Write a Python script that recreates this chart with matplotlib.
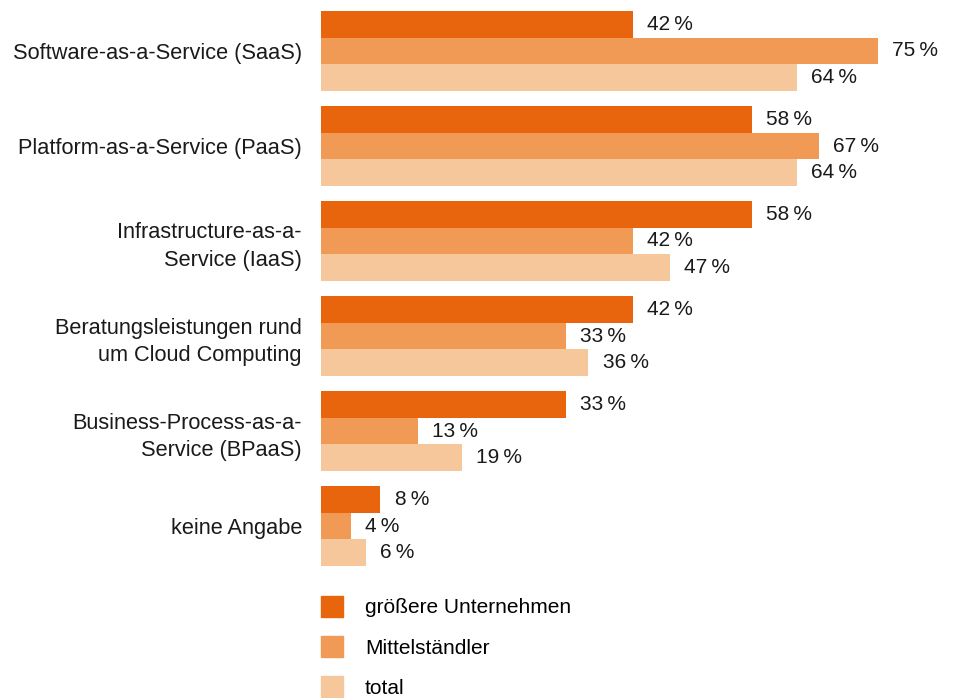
import matplotlib
matplotlib.use("Agg")
import matplotlib.pyplot as plt
from matplotlib.patches import Patch
import numpy as np

plt.rcParams['font.family'] = ['Liberation Sans', 'DejaVu Sans']

categories = [
    "Software-as-a-Service (SaaS)",
    "Platform-as-a-Service (PaaS)",
    "Infrastructure-as-a-\nService (IaaS)",
    "Beratungsleistungen rund\num Cloud Computing",
    "Business-Process-as-a-\nService (BPaaS)",
    "keine Angabe",
]
series_names = ["größere Unternehmen", "Mittelständler", "total"]
groessere = [42, 58, 58, 42, 33, 8]
mittel = [75, 67, 42, 33, 13, 4]
total = [64, 64, 47, 36, 19, 6]

colors = ["#E8650D", "#F09A56", "#F7C79C"]
fs = 15

fig = plt.figure(figsize=(9.55, 6.98), dpi=100)
ax = fig.add_axes([321 / 955, (698 - 566) / 698, 1 - 321 / 955, 555 / 698])

y = np.arange(len(categories))
h = 26.7 / 95
for k, (vals, col) in enumerate(zip([groessere, mittel, total], colors)):
    pos = y + (k - 1) * h
    ax.barh(pos, vals, height=h, color=col, label=series_names[k])
    for p, v in zip(pos, vals):
        ax.text(v + 1.9, p, f"{v}\u2009%", va="center", ha="left", fontsize=fs, color="#1a1a1a")

ax.set_xlim(0, (955 - 321) / 7.43)
ax.set_ylim(len(categories) - 1 + 40 / 95, -40 / 95)
ax.set_yticks(y)
ax.set_yticklabels(categories, fontsize=15.7, color="#1a1a1a", linespacing=1.38)
ax.tick_params(axis="y", length=0, pad=13.7)
ax.set_xticks([])
for s in ax.spines.values():
    s.set_visible(False)

handles = [Patch(color=c) for c in colors]
ax.legend(handles, series_names, loc="upper left", bbox_to_anchor=(321 / 955, 1 - 596 / 698),
          bbox_transform=fig.transFigure, frameon=False, fontsize=fs,
          handlelength=1.056, handleheight=1.15, handletextpad=1.056, labelspacing=0.9,
          borderpad=0, borderaxespad=0)

fig.savefig("out.png", dpi=100)
